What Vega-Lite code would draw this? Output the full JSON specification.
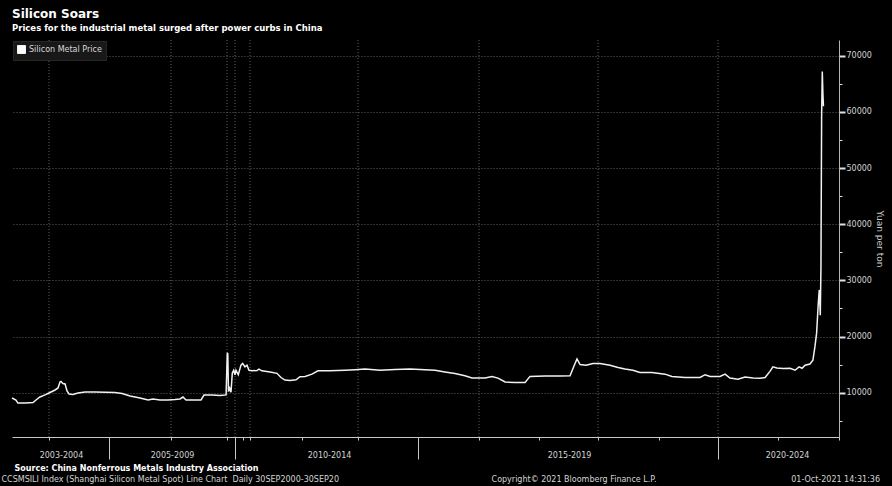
{
  "$schema": "https://vega.github.io/schema/vega-lite/v6.json",
  "autosize": {"type": "none"},
  "padding": {"left": 12, "top": 40, "right": 53, "bottom": 49},
  "width": 827,
  "height": 397,
  "background": "#000000",
  "config": {"view": {"stroke": null}, "font": "DejaVu Sans"},
  "title": {
    "text": "Silicon Soars",
    "subtitle": "Prices for the industrial metal surged after power curbs in China",
    "anchor": "start",
    "frame": "group",
    "offset": 6,
    "font": "DejaVu Sans",
    "fontSize": 12,
    "fontWeight": "bold",
    "color": "#ffffff",
    "subtitleFont": "DejaVu Sans",
    "subtitleFontSize": 8.5,
    "subtitleFontWeight": "bold",
    "subtitleColor": "#ffffff",
    "subtitlePadding": 3
  },
  "datasets": {
    "grid": [
      {"date": "2004-01-01"}, {"date": "2006-01-01"}, {"date": "2008-01-01"},
      {"date": "2010-01-01"}, {"date": "2012-01-01"}, {"date": "2014-01-01"},
      {"date": "2016-01-01"}, {"date": "2018-01-01"}, {"date": "2020-01-01"}
    ],
    "prices": [
      {"date": "2003-05-21", "price": 9050},
      {"date": "2003-06-14", "price": 8700},
      {"date": "2003-06-26", "price": 8150},
      {"date": "2003-08-08", "price": 8150},
      {"date": "2003-09-26", "price": 8250},
      {"date": "2003-10-14", "price": 8700},
      {"date": "2003-11-07", "price": 9230},
      {"date": "2003-12-08", "price": 9600},
      {"date": "2004-01-07", "price": 10030},
      {"date": "2004-02-07", "price": 10480},
      {"date": "2004-02-25", "price": 10840},
      {"date": "2004-03-08", "price": 11900},
      {"date": "2004-03-14", "price": 12000},
      {"date": "2004-03-26", "price": 11640},
      {"date": "2004-04-08", "price": 11550},
      {"date": "2004-04-20", "price": 10300},
      {"date": "2004-05-02", "price": 9770},
      {"date": "2004-05-26", "price": 9680},
      {"date": "2004-06-26", "price": 9950},
      {"date": "2004-08-08", "price": 10120},
      {"date": "2004-10-08", "price": 10120},
      {"date": "2004-12-08", "price": 10070},
      {"date": "2005-02-05", "price": 10030},
      {"date": "2005-03-19", "price": 9860},
      {"date": "2005-05-05", "price": 9410},
      {"date": "2005-07-03", "price": 9060},
      {"date": "2005-08-19", "price": 8700},
      {"date": "2005-09-17", "price": 8880},
      {"date": "2005-10-28", "price": 8700},
      {"date": "2005-12-14", "price": 8700},
      {"date": "2006-02-22", "price": 8790},
      {"date": "2006-04-28", "price": 8880},
      {"date": "2006-06-06", "price": 9230},
      {"date": "2006-07-16", "price": 8700},
      {"date": "2006-11-10", "price": 8700},
      {"date": "2007-01-27", "price": 8700},
      {"date": "2007-03-07", "price": 9590},
      {"date": "2007-06-20", "price": 9590},
      {"date": "2007-10-02", "price": 9500},
      {"date": "2007-12-20", "price": 9600},
      {"date": "2008-01-28", "price": 17100},
      {"date": "2008-03-13", "price": 16900},
      {"date": "2008-05-17", "price": 10200},
      {"date": "2008-09-04", "price": 10800},
      {"date": "2008-11-15", "price": 10300},
      {"date": "2009-01-01", "price": 10100},
      {"date": "2009-04-30", "price": 13500},
      {"date": "2009-09-04", "price": 14000},
      {"date": "2010-01-01", "price": 13200},
      {"date": "2010-02-15", "price": 14000},
      {"date": "2010-05-31", "price": 13200},
      {"date": "2010-10-01", "price": 14900},
      {"date": "2010-12-18", "price": 15200},
      {"date": "2011-04-15", "price": 14600},
      {"date": "2011-07-28", "price": 14900},
      {"date": "2011-11-10", "price": 14000},
      {"date": "2012-01-15", "price": 13900},
      {"date": "2012-02-19", "price": 13950},
      {"date": "2012-03-04", "price": 14200},
      {"date": "2012-03-25", "price": 13900},
      {"date": "2012-05-21", "price": 13700},
      {"date": "2012-07-09", "price": 13450},
      {"date": "2012-08-06", "price": 12700},
      {"date": "2012-09-03", "price": 12250},
      {"date": "2012-10-09", "price": 12150},
      {"date": "2012-11-20", "price": 12300},
      {"date": "2012-12-18", "price": 12850},
      {"date": "2013-01-21", "price": 12900},
      {"date": "2013-03-07", "price": 13300},
      {"date": "2013-04-15", "price": 13900},
      {"date": "2013-07-03", "price": 13900},
      {"date": "2013-10-08", "price": 14000},
      {"date": "2013-12-13", "price": 14100},
      {"date": "2014-02-13", "price": 14200},
      {"date": "2014-05-15", "price": 14000},
      {"date": "2014-08-14", "price": 14150},
      {"date": "2014-11-13", "price": 14200},
      {"date": "2015-02-12", "price": 14100},
      {"date": "2015-04-13", "price": 14000},
      {"date": "2015-06-11", "price": 13700},
      {"date": "2015-08-10", "price": 13400},
      {"date": "2015-10-09", "price": 13000},
      {"date": "2015-11-20", "price": 12600},
      {"date": "2016-02-07", "price": 12600},
      {"date": "2016-03-20", "price": 12900},
      {"date": "2016-04-26", "price": 12600},
      {"date": "2016-06-08", "price": 11900},
      {"date": "2016-08-08", "price": 11800},
      {"date": "2016-10-08", "price": 11800},
      {"date": "2016-11-07", "price": 12900},
      {"date": "2017-02-07", "price": 12950},
      {"date": "2017-05-11", "price": 12950},
      {"date": "2017-07-12", "price": 13000},
      {"date": "2017-08-06", "price": 14800},
      {"date": "2017-08-24", "price": 16000},
      {"date": "2017-09-12", "price": 15000},
      {"date": "2017-10-19", "price": 14900},
      {"date": "2017-12-01", "price": 15200},
      {"date": "2018-01-13", "price": 15200},
      {"date": "2018-03-14", "price": 14900},
      {"date": "2018-05-01", "price": 14500},
      {"date": "2018-06-11", "price": 14200},
      {"date": "2018-07-29", "price": 14000},
      {"date": "2018-09-09", "price": 13600},
      {"date": "2018-11-20", "price": 13600},
      {"date": "2019-02-07", "price": 13300},
      {"date": "2019-03-22", "price": 12900},
      {"date": "2019-06-11", "price": 12700},
      {"date": "2019-09-12", "price": 12700},
      {"date": "2019-10-13", "price": 13200},
      {"date": "2019-11-13", "price": 12900},
      {"date": "2020-01-13", "price": 12900},
      {"date": "2020-02-13", "price": 13300},
      {"date": "2020-03-14", "price": 12600},
      {"date": "2020-05-02", "price": 12400},
      {"date": "2020-06-14", "price": 12800},
      {"date": "2020-08-01", "price": 12600},
      {"date": "2020-09-13", "price": 12560},
      {"date": "2020-10-14", "price": 12700},
      {"date": "2020-11-13", "price": 13800},
      {"date": "2020-12-01", "price": 14600},
      {"date": "2020-12-25", "price": 14400},
      {"date": "2021-01-31", "price": 14300},
      {"date": "2021-03-14", "price": 14350},
      {"date": "2021-04-13", "price": 14000},
      {"date": "2021-05-07", "price": 14600},
      {"date": "2021-05-25", "price": 14350},
      {"date": "2021-06-12", "price": 14900},
      {"date": "2021-07-11", "price": 15100},
      {"date": "2021-07-29", "price": 15800},
      {"date": "2021-08-10", "price": 18200},
      {"date": "2021-08-20", "price": 20600},
      {"date": "2021-08-30", "price": 25900},
      {"date": "2021-09-05", "price": 28300},
      {"date": "2021-09-11", "price": 23800},
      {"date": "2021-09-15", "price": 32400},
      {"date": "2021-09-19", "price": 59100},
      {"date": "2021-09-23", "price": 67200},
      {"date": "2021-09-27", "price": 63000},
      {"date": "2021-09-30", "price": 61000}
    ]
  },
  "resolve": {"axis": {"x": "independent"}},
  "layer": [
    {
      "data": {"name": "grid"},
      "mark": {"type": "rule", "color": "#5e5e5e", "strokeDash": [1, 2], "strokeWidth": 1},
      "encoding": {
        "x": {
          "field": "date",
          "type": "temporal",
          "scale": {
            "type": "utc",
            "nice": false,
            "domainRaw": {"expr": "[utc(2003,4,21), utc(2004,0,1), utc(2005,0,1), utc(2006,0,1), utc(2008,0,1), utc(2010,0,1), utc(2011,0,1), utc(2012,0,1), utc(2013,0,1), utc(2014,0,1), utc(2015,0,1), utc(2016,0,1), utc(2017,0,1), utc(2018,0,1), utc(2019,0,1), utc(2020,0,1), utc(2021,0,1), utc(2022,0,1)]"},
            "range": [0, 37, 97, 159, 215, 223, 231, 238, 290, 346, 406, 467, 527, 586, 647, 706, 766, 827]
          },
          "axis": {
            "orient": "top",
            "domain": false,
            "ticks": false,
            "labels": false,
            "grid": false,
            "title": "CCSMSILI Index (Shanghai Silicon Metal Spot) Line Chart\u00a0 Daily 30SEP2000-30SEP20\u00a0\u00a0\u00a0\u00a0\u00a0\u00a0\u00a0\u00a0\u00a0\u00a0\u00a0\u00a0\u00a0\u00a0\u00a0\u00a0\u00a0\u00a0\u00a0\u00a0\u00a0\u00a0\u00a0\u00a0\u00a0\u00a0\u00a0\u00a0\u00a0\u00a0\u00a0\u00a0\u00a0\u00a0\u00a0\u00a0\u00a0\u00a0\u00a0\u00a0\u00a0\u00a0\u00a0\u00a0\u00a0\u00a0\u00a0\u00a0\u00a0\u00a0\u00a0\u00a0\u00a0\u00a0\u00a0\u00a0\u00a0\u00a0\u00a0\u00a0Copyright\u00a9 2021 Bloomberg Finance L.P.\u00a0\u00a0\u00a0\u00a0\u00a0\u00a0\u00a0\u00a0\u00a0\u00a0\u00a0\u00a0\u00a0\u00a0\u00a0\u00a0\u00a0\u00a0\u00a0\u00a0\u00a0\u00a0\u00a0\u00a0\u00a0\u00a0\u00a0\u00a0\u00a0\u00a0\u00a0\u00a0\u00a0\u00a0\u00a0\u00a0\u00a0\u00a0\u00a0\u00a0\u00a0\u00a0\u00a0\u00a0\u00a0\u00a0\u00a0\u00a0\u00a0\u00a0\u00a0\u00a0\u00a001-Oct-2021 14:31:36",
            "titleFont": "DejaVu Sans",
            "titleFontSize": 8,
            "titleFontWeight": "normal",
            "titleColor": "#d4d4d4",
            "titleAlign": "left",
            "titleBaseline": "top",
            "titleAngle": 0,
            "titleX": -11,
            "titleY": 435
          }
        }
      }
    },
    {
      "data": {"name": "prices"},
      "mark": {"type": "line", "strokeWidth": 1.5, "interpolate": "linear"},
      "encoding": {
        "x": {
          "field": "date",
          "type": "temporal",
          "scale": {
            "type": "utc",
            "nice": false,
            "domainRaw": {"expr": "[utc(2003,4,21), utc(2004,0,1), utc(2005,0,1), utc(2006,0,1), utc(2008,0,1), utc(2010,0,1), utc(2011,0,1), utc(2012,0,1), utc(2013,0,1), utc(2014,0,1), utc(2015,0,1), utc(2016,0,1), utc(2017,0,1), utc(2018,0,1), utc(2019,0,1), utc(2020,0,1), utc(2021,0,1), utc(2022,0,1)]"},
            "range": [0, 37, 97, 159, 215, 223, 231, 238, 290, 346, 406, 467, 527, 586, 647, 706, 766, 827]
          },
          "axis": {
            "orient": "bottom",
            "values": [
              {"year": 2004, "month": 1, "date": 1, "utc": true},
              {"year": 2005, "month": 1, "date": 1, "utc": true},
              {"year": 2006, "month": 1, "date": 1, "utc": true},
              {"year": 2008, "month": 1, "date": 1, "utc": true},
              {"year": 2010, "month": 1, "date": 1, "utc": true},
              {"year": 2011, "month": 1, "date": 1, "utc": true},
              {"year": 2012, "month": 1, "date": 1, "utc": true},
              {"year": 2013, "month": 1, "date": 1, "utc": true},
              {"year": 2014, "month": 1, "date": 1, "utc": true},
              {"year": 2015, "month": 1, "date": 1, "utc": true},
              {"year": 2016, "month": 1, "date": 1, "utc": true},
              {"year": 2017, "month": 1, "date": 1, "utc": true},
              {"year": 2018, "month": 1, "date": 1, "utc": true},
              {"year": 2019, "month": 1, "date": 1, "utc": true},
              {"year": 2020, "month": 1, "date": 1, "utc": true},
              {"year": 2021, "month": 1, "date": 1, "utc": true},
              {"year": 2022, "month": 1, "date": 1, "utc": true},
              {"year": 2004, "month": 3, "date": 14, "utc": true},
              {"year": 2006, "month": 1, "date": 14, "utc": true},
              {"year": 2013, "month": 6, "date": 26, "utc": true},
              {"year": 2017, "month": 7, "date": 6, "utc": true},
              {"year": 2021, "month": 2, "date": 24, "utc": true}
            ],
            "domain": true,
            "domainColor": "#c8c8c8",
            "domainWidth": 1,
            "grid": false,
            "ticks": true,
            "tickColor": "#c8c8c8",
            "tickSize": {"condition": {"test": "utcmonth(datum.value) == 0 && utcdate(datum.value) == 1 && utcyear(datum.value) % 5 == 0", "value": 22}, "value": 3},
            "tickOpacity": {"condition": {"test": "!(utcmonth(datum.value) == 0 && utcdate(datum.value) == 1)", "value": 0}, "value": 1},
            "labelExpr": "(utcmonth(datum.value) == 0 && utcdate(datum.value) == 1) ? '' : (utcyear(datum.value) == 2004 ? '2003-2004' : utcyear(datum.value) == 2006 ? '2005-2009' : utcyear(datum.value) == 2013 ? '2010-2014' : utcyear(datum.value) == 2017 ? '2015-2019' : '2020-2024')",
            "labelFont": "DejaVu Sans",
            "labelFontSize": 8,
            "labelColor": "#d4d4d4",
            "labelPadding": 11,
            "labelOverlap": false,
            "labelFlush": false,
            "labelBound": false,
            "title": "Source: China Nonferrous Metals Industry Association",
            "titleFont": "DejaVu Sans",
            "titleFontSize": 8,
            "titleFontWeight": "bold",
            "titleColor": "#ffffff",
            "titleAlign": "left",
            "titleBaseline": "top",
            "titleX": 2,
            "titleY": 27
          }
        },
        "y": {
          "field": "price",
          "type": "quantitative",
          "scale": {"domain": [2110, 72800], "nice": false, "zero": false},
          "axis": {
            "orient": "right",
            "values": [5000, 10000, 15000, 20000, 25000, 30000, 35000, 40000, 45000, 50000, 55000, 60000, 65000, 70000],
            "domain": true,
            "domainColor": "#b4b4b4",
            "grid": true,
            "gridColor": "#5e5e5e",
            "gridDash": [1, 2],
            "gridOpacity": {"condition": {"test": "datum.value % 10000 != 0", "value": 0}, "value": 1},
            "tickColor": "#e0e0e0",
            "tickSize": {"condition": {"test": "datum.value % 10000 == 0", "value": 6}, "value": 3},
            "tickWidth": {"condition": {"test": "datum.value % 10000 == 0", "value": 2}, "value": 1},
            "labelExpr": "datum.value % 10000 == 0 ? format(datum.value, 'd') : ''",
            "labelFont": "DejaVu Sans",
            "labelFontSize": 8,
            "labelColor": "#d4d4d4",
            "labelPadding": 1,
            "labelOverlap": false,
            "labelFlush": false,
            "labelBound": false,
            "title": "Yuan per ton",
            "titleFont": "DejaVu Sans",
            "titleFontSize": 9,
            "titleFontWeight": "normal",
            "titleColor": "#c8c8c8",
            "titlePadding": 3
          }
        },
        "color": {
          "datum": "Silicon Metal Price",
          "type": "nominal",
          "scale": {"range": ["#f2f2f2"]},
          "legend": {
            "orient": "top-left",
            "offset": 1,
            "title": null,
            "padding": 4,
            "fillColor": "#181818",
            "strokeColor": "#262626",
            "labelFont": "DejaVu Sans",
            "labelFontSize": 8,
            "labelColor": "#d8d8d8",
            "labelOffset": 3,
            "symbolType": "square",
            "symbolSize": 64,
            "encode": {
              "symbols": {
                "update": {
                  "fill": {"value": "#ffffff"},
                  "stroke": {"value": "#8c8c8c"},
                  "strokeWidth": {"value": 1},
                  "opacity": {"value": 1}
                }
              }
            }
          }
        }
      }
    }
  ]
}
